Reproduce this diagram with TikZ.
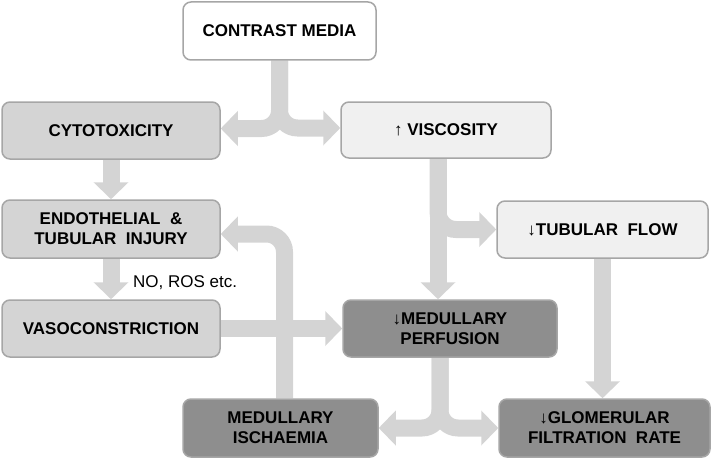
\documentclass[tikz,border=0pt]{standalone}
\usepackage{fontspec}
\setmainfont{Liberation Sans}
\usetikzlibrary{arrows.meta,backgrounds}

\definecolor{fatgray}{RGB}{212,212,212}
\definecolor{edgegray}{RGB}{166,166,166}
\definecolor{lightfill}{RGB}{240,240,240}
\definecolor{midfill}{RGB}{212,212,212}
\definecolor{darkfill}{RGB}{142,142,142}

\begin{document}
\begin{tikzpicture}[x=1pt,y=-1pt,
    box/.style={draw=edgegray, line width=1.5pt, rounded corners=8pt, align=center,
        inner sep=0pt, font=\fontsize{17}{20}\selectfont\bfseries},
    fat/.style={draw=fatgray, line width=17pt, rounded corners=18pt,
        -{Triangle[length=17pt,width=34pt]}}]
    \useasboundingbox (0,0) rectangle (714,460);
    \node [box, fill=white, minimum width=193pt, minimum height=58pt] (media) at (279.5,31) {CONTRAST MEDIA};
    \node [box, fill=midfill, minimum width=218pt, minimum height=57pt] (cyto) at (111,130.5) {CYTOTOXICITY};
    \node [box, fill=lightfill, minimum width=210pt, minimum height=56pt] (visc) at (446,130) {{\mdseries\textuparrow}\ VISCOSITY};
    \node [box, fill=midfill, minimum width=218pt, minimum height=58pt] (endo) at (111,229) {ENDOTHELIAL \ \&\\TUBULAR \ INJURY};
    \node [box, fill=lightfill, minimum width=211pt, minimum height=57pt] (tub) at (602.5,229.5) {{\mdseries\textdownarrow}TUBULAR \ FLOW};
    \node [box, fill=midfill, minimum width=218pt, minimum height=57pt] (vaso) at (111,328.5) {VASOCONSTRICTION};
    \node [box, fill=darkfill, minimum width=214pt, minimum height=57pt] (perf) at (450,328.5) {{\mdseries\textdownarrow}MEDULLARY\\PERFUSION};
    \node [box, fill=darkfill, minimum width=195pt, minimum height=58pt] (isch) at (280.5,428) {MEDULLARY\\ISCHAEMIA};
    \node [box, fill=darkfill, minimum width=211pt, minimum height=58pt] (gfr) at (604.5,428) {{\mdseries\textdownarrow}GLOMERULAR\\FILTRATION \ RATE};
    \node [anchor=west, inner sep=0pt, font=\fontsize{17}{20}\selectfont] (note) at (133,283) {NO, ROS etc.};
    \begin{scope}[on background layer]
        \draw [fat] (media.south) |- ([yshift=2pt]cyto.east);
        \draw [fat] (media.south) |- ([yshift=2pt]visc.west);
        \draw [fat] (cyto.south) -- (endo.north);
        \draw [fat] (endo.south) -- (vaso.north);
        \draw [fat] ([xshift=-8pt]visc.south) -- ([xshift=-8pt]visc.south |- perf.north);
        \draw [fat] ([xshift=-8pt]visc.south) |- (tub.west);
        \draw [fat] (tub.south) -- (tub.south |- gfr.north);
        \draw [fat] (vaso.east) -- (perf.west);
        \draw [fat] ([xshift=4pt]isch.north) |- ([yshift=-5pt]endo.east);
        \draw [fat] ([xshift=-10pt]perf.south) |- (isch.east);
        \draw [fat] ([xshift=-10pt]perf.south) |- (gfr.west);
    \end{scope}
\end{tikzpicture}
\end{document}
